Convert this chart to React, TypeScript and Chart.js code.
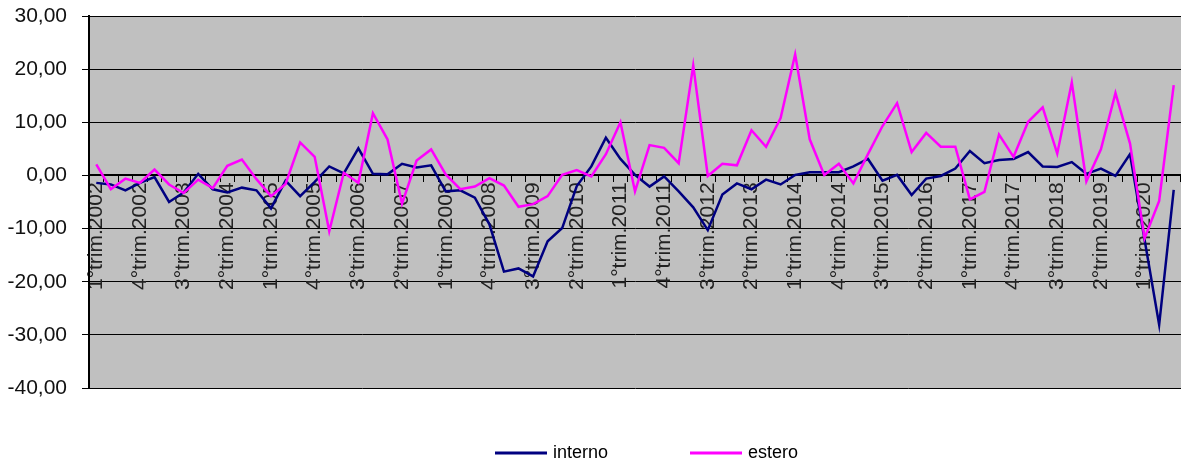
import React, { useEffect, useRef } from 'react';
import { Chart, registerables } from 'chart.js';

Chart.register(...registerables);

const years: number[] = [2002, 2003, 2004, 2005, 2006, 2007, 2008, 2009, 2010, 2011, 2012, 2013, 2014, 2015, 2016, 2017, 2018, 2019, 2020];
const quarters: string[] = ['1°trim.', '2°trim.', '3°trim.', '4°trim.'];
const categories: string[] = years.flatMap((y) => quarters.map((q) => q + y)).slice(0, 75);

const interno: number[] = [
  -1.4, -1.7, -2.8, -1.4, -0.3, -5.0, -3.2, 0.3, -2.6, -3.2,
  -2.3, -2.8, -6.2, -1.0, -3.9, -1.2, 1.7, 0.4, 5.1, 0.3,
  0.2, 2.2, 1.5, 1.9, -3.0, -2.8, -4.2, -9.2, -18.1, -17.5,
  -19.0, -12.4, -9.9, -2.0, 1.7, 7.1, 3.1, 0.1, -2.1, -0.2,
  -3.0, -6.0, -10.3, -3.6, -1.5, -2.6, -0.8, -1.7, 0.1, 0.6,
  0.6, 0.6, 1.7, 3.1, -1.0, 0.1, -3.7, -0.6, -0.1, 1.3,
  4.6, 2.3, 2.9, 3.1, 4.4, 1.7, 1.6, 2.5, 0.3, 1.3,
  -0.1, 4.0, -12.1, -28.1, -2.7,
];

const estero: number[] = [
  2.1, -2.6, -0.6, -1.4, 1.1, -1.7, -3.3, -0.8, -2.4, 1.8,
  3.0, -0.7, -3.9, -1.6, 6.2, 3.5, -10.5, 0.5, -1.4, 11.7,
  6.8, -5.3, 2.8, 4.9, 0.2, -2.6, -2.1, -0.5, -1.9, -5.9,
  -5.4, -3.9, 0.1, 1.0, -0.2, 4.0, 10.0, -3.0, 5.7, 5.2,
  2.3, 20.7, -0.1, 2.2, 1.9, 8.5, 5.4, 10.8, 22.8, 6.8,
  0.1, 2.2, -1.5, 4.0, 9.3, 13.6, 4.4, 8.0, 5.4, 5.4,
  -4.5, -3.1, 7.7, 3.5, 10.1, 12.8, 4.1, 17.5, -1.1, 4.9,
  15.5, 6.0, -11.8, -4.8, 17.0,
];

const yTickValues: number[] = [-40, -30, -20, -10, 0, 10, 20, 30];

const FONT = "'Liberation Sans', Arial, sans-serif";

const plotBackground = {
  id: 'plotBackground',
  beforeDraw(chart: any) {
    const { ctx, chartArea } = chart;
    ctx.save();
    ctx.fillStyle = '#C0C0C0';
    ctx.fillRect(chartArea.left, chartArea.top, chartArea.right - chartArea.left, chartArea.bottom - chartArea.top);
    ctx.restore();
  },
};

const bottomLegend = {
  id: 'bottomLegend',
  afterDraw(chart: any) {
    const { ctx } = chart;
    const starts = [495, 690];
    const cy = 453;
    ctx.save();
    ctx.font = `18px ${FONT}`;
    ctx.textBaseline = 'middle';
    ctx.textAlign = 'left';
    chart.data.datasets.forEach((ds: any, i: number) => {
      const x = starts[i];
      ctx.strokeStyle = ds.borderColor;
      ctx.lineWidth = 3;
      ctx.beginPath();
      ctx.moveTo(x, cy);
      ctx.lineTo(x + 52, cy);
      ctx.stroke();
      ctx.fillStyle = '#000';
      ctx.fillText(ds.label, x + 58, cy);
    });
    ctx.restore();
  },
};

export default function App() {
  const canvasRef = useRef<HTMLCanvasElement | null>(null);

  useEffect(() => {
    const canvas = canvasRef.current;
    if (!canvas) return;
    const chart = new Chart(canvas, {
      type: 'line',
      data: {
        labels: categories,
        datasets: [
          {
            label: 'interno',
            data: interno,
            borderColor: '#000080',
            backgroundColor: '#000080',
            borderWidth: 2.5,
            pointRadius: 0,
            tension: 0,
            order: 1,
          },
          {
            label: 'estero',
            data: estero,
            borderColor: '#FF00FF',
            backgroundColor: '#FF00FF',
            borderWidth: 2.5,
            pointRadius: 0,
            tension: 0,
            order: 0,
          },
        ],
      },
      options: {
        responsive: false,
        animation: false,
        layout: { padding: { left: 0, right: 12.25, top: 16, bottom: 75 } },
        plugins: {
          legend: { display: false },
          tooltip: { enabled: false },
          title: { display: false },
        },
        scales: {
          x: {
            type: 'category',
            offset: true,
            position: { y: 0 } as any,
            grid: {
              display: true,
              drawOnChartArea: false,
              drawTicks: true,
              tickLength: 6,
              color: '#000',
              lineWidth: 1,
              offset: true,
            },
            border: { display: true, color: '#000', width: 2 },
            ticks: {
              autoSkip: false,
              minRotation: 90,
              maxRotation: 90,
              padding: 1,
              color: '#222',
              font: { family: FONT, size: 21 },
              callback: (_v: any, i: number) => (i % 3 === 0 ? categories[i] : ''),
            },
          },
          y: {
            min: -40,
            max: 30,
            afterBuildTicks: (scale: any) => {
              scale.ticks = yTickValues.map((v) => ({ value: v }));
            },
            afterFit: (scale: any) => {
              scale.width = 89;
              scale.paddingTop = 8;
              scale.paddingBottom = 8;
            },
            grid: { color: '#000', lineWidth: 1, tickLength: 7, drawTicks: true },
            border: { display: true, color: '#000', width: 2 },
            ticks: {
              padding: 15,
              color: '#111',
              font: { family: FONT, size: 21 },
              callback: (v: any) => Number(v).toFixed(2).replace('.', ','),
            },
          },
        },
      },
      plugins: [plotBackground, bottomLegend],
    });
    return () => chart.destroy();
  }, []);

  return (
    <div style={{ position: 'fixed', left: 0, top: 0, width: 1181, height: 463, overflow: 'hidden', background: '#fff' }}>
      <canvas ref={canvasRef} width={1200} height={463} style={{ display: 'block' }} />
    </div>
  );
}
